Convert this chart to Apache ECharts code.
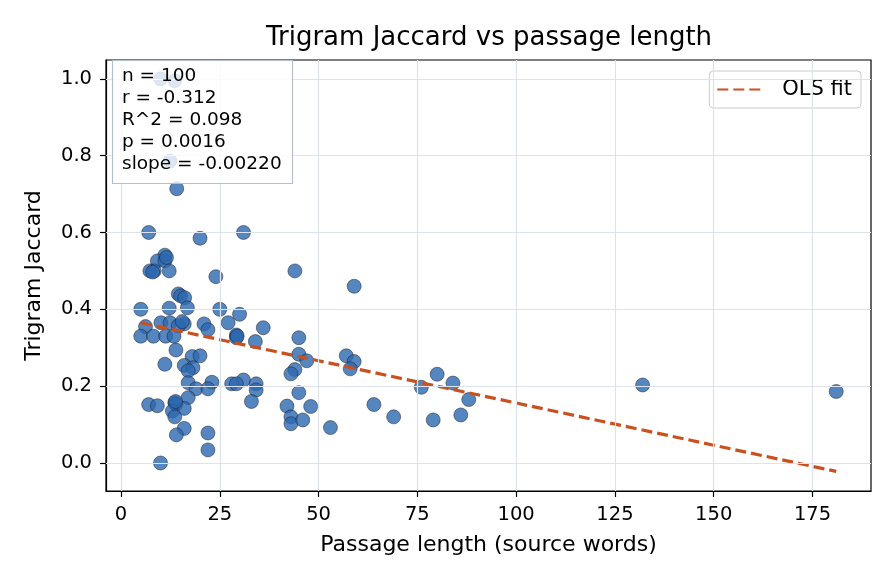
<!doctype html>
<html lang="en">
<head>
    <meta charset="UTF-8">
    <title>Trigram Jaccard vs passage length</title>
    <script src="https://cdn.jsdelivr.net/npm/echarts@6.0.0/dist/echarts.min.js"></script>
    <style>
        html, body { margin: 0; padding: 0; background: #fff; }
        #chart { width: 896px; height: 584px; }
    </style>
</head>
<body>
<div id="chart"></div>
<script>
    // passage length (source words) of each point
    const lengthX = [
        10, 13.6, 12.4, 14.1, 7, 20, 31, 11.1, 9.2, 11.1,
        7.3, 8.4, 12.2, 24, 44, 59, 14.5, 15.1, 16.1, 5,
        12.2, 16.8, 25, 30, 27.1, 10.1, 12.4, 16, 14.5, 6.2,
        21, 22, 36, 5, 8.2, 11.3, 13.4, 29.2, 29.2, 34,
        45, 13.9, 45, 18, 20, 57, 47, 59, 11.1, 16,
        18.2, 17, 58, 44, 43, 80, 31, 17, 23, 28,
        29.2, 34.2, 84, 132, 19, 22, 34.2, 76, 45, 181,
        17, 88, 33, 7, 9.2, 13.6, 13.9, 13, 16, 42,
        48, 64, 13.6, 43, 43, 46, 69, 79, 86, 16,
        53, 14, 22, 22, 10, 15.5, 13.8, 11.5, 8, 29.4
    ];
    // trigram jaccard of each point
    const jaccardY = [
        1.0, 0.995, 0.786, 0.714, 0.6, 0.585, 0.6, 0.541, 0.526, 0.526,
        0.5, 0.5, 0.5, 0.485, 0.5, 0.46, 0.44, 0.435, 0.43, 0.4,
        0.403, 0.404, 0.4, 0.387, 0.365, 0.365, 0.365, 0.362, 0.357, 0.355,
        0.362, 0.347, 0.352, 0.33, 0.33, 0.33, 0.33, 0.333, 0.326, 0.316,
        0.326, 0.294, 0.283, 0.277, 0.279, 0.279, 0.266, 0.264, 0.257, 0.254,
        0.248, 0.24, 0.245, 0.243, 0.232, 0.231, 0.216, 0.209, 0.21, 0.206,
        0.206, 0.206, 0.208, 0.203, 0.193, 0.193, 0.19, 0.197, 0.183, 0.186,
        0.17, 0.165, 0.16, 0.152, 0.149, 0.157, 0.153, 0.135, 0.142, 0.148,
        0.147, 0.152, 0.12, 0.12, 0.102, 0.112, 0.12, 0.112, 0.125, 0.09,
        0.092, 0.073, 0.078, 0.034, 0.0, 0.368, 0.16, 0.535, 0.497, 0.33
    ];
    // OLS fit line end points
    const fitX = [5, 181];
    const fitY = [0.365, -0.022];

    const xTicks = [0, 25, 50, 75, 100, 125, 150, 175];
    const yTicks = [0, 0.2, 0.4, 0.6, 0.8, 1.0];

    const statsLines = ['n = 100', 'r = -0.312', 'R^2 = 0.098', 'p = 0.0016', 'slope = -0.00220'];

    const font = 'DejaVu Sans';
    const gridColor = '#dde3ec';
    const fitColor = '#c9511f';

    const chart = echarts.init(document.getElementById('chart'));

    const axisCommon = {
        axisLine: { onZero: false, lineStyle: { color: '#000', width: 1.2 } },
        splitLine: { show: false },
        nameTextStyle: { fontFamily: font, fontSize: 22, color: '#000' }
    };

    // grid lines at the tick positions (ticks use customValues, so draw them by markLine)
    const gridLines = xTicks.map(v => ({ xAxis: v })).concat(yTicks.map(v => ({ yAxis: v })));

    const option = {
        animation: false,
        backgroundColor: '#fff',
        grid: { left: 106, right: 25, top: 60, bottom: 93, containLabel: false,
            show: true, borderColor: '#000', borderWidth: 1.2 },
        graphic: [
            {
                type: 'text', x: 489, y: 38, z: 10,
                style: { text: 'Trigram Jaccard vs passage length', font: '26px "DejaVu Sans"',
                    fill: '#000', textAlign: 'center', textVerticalAlign: 'middle' }
            },
            {
                type: 'rect', z: 10,
                shape: { x: 112.5, y: 60.5, width: 180, height: 123 },
                style: { fill: 'rgba(255,255,255,0.8)', stroke: '#b4bfcd', lineWidth: 1.2 }
            },
            {
                type: 'text', x: 122, y: 65, z: 11,
                style: { text: statsLines.join('\n'), font: '18.5px "DejaVu Sans"', lineHeight: 22,
                    fill: '#000', textAlign: 'left', textVerticalAlign: 'top' }
            }
        ],
        legend: {
            right: 35, top: 71,
            padding: [8, 9, 8, 7],
            itemWidth: 48, itemHeight: 20,
            borderColor: '#cccccc', borderWidth: 1, borderRadius: 4,
            backgroundColor: 'rgba(255,255,255,0.8)',
            itemStyle: { opacity: 0 },
            textStyle: { fontFamily: font, fontSize: 21, color: '#000', padding: [0, 0, 0, 12] },
            data: ['OLS fit']
        },
        xAxis: Object.assign({}, axisCommon, {
            type: 'value', min: -3.8, max: 189.8,
            name: 'Passage length (source words)', nameLocation: 'middle', nameGap: 43,
            axisTick: { show: true, length: 6, customValues: xTicks, lineStyle: { color: '#000', width: 1.2 } },
            axisLabel: { customValues: xTicks, fontFamily: font, fontSize: 19.5, color: '#000', margin: 14 }
        }),
        yAxis: Object.assign({}, axisCommon, {
            type: 'value', min: -0.073, max: 1.049,
            name: 'Trigram Jaccard', nameLocation: 'middle', nameGap: 61,
            axisTick: { show: true, length: 6, customValues: yTicks, lineStyle: { color: '#000', width: 1.2 } },
            axisLabel: { customValues: yTicks, fontFamily: font, fontSize: 19.5, color: '#000', margin: 14,
                formatter: v => v.toFixed(1) }
        }),
        series: [
            {
                name: 'grid', type: 'line', z: 1, data: [], silent: true,
                markLine: {
                    silent: true, symbol: ['none', 'none'], animation: false,
                    label: { show: false },
                    lineStyle: { color: gridColor, type: 'solid', width: 1.2 },
                    data: gridLines
                }
            },
            {
                name: 'points', type: 'scatter', z: 3,
                symbolSize: 14,
                itemStyle: { color: '#2c68b0', opacity: 0.8, borderColor: '#1a1a1a', borderWidth: 0.6 },
                data: lengthX.map((x, i) => [x, jaccardY[i]])
            },
            {
                name: 'OLS fit', type: 'line', z: 4, symbol: 'none',
                lineStyle: { color: fitColor, width: 3.2, type: [11, 5] },
                itemStyle: { color: fitColor },
                data: fitX.map((x, i) => [x, fitY[i]])
            }
        ]
    };

    chart.setOption(option);
</script>
</body>
</html>
